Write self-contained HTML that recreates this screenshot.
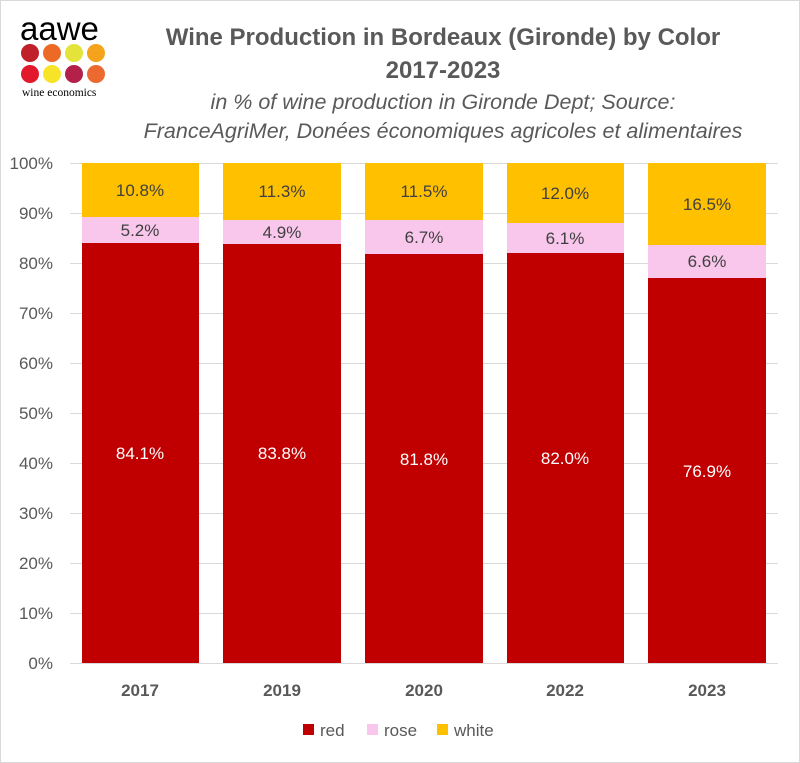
<!DOCTYPE html>
<html><head><meta charset="utf-8"><style>
html,body{margin:0;padding:0;background:#fff}
svg{display:block}
</style></head><body>
<svg width="800" height="763" xmlns="http://www.w3.org/2000/svg" font-family="Liberation Sans, sans-serif">
<rect x="0.5" y="0.5" width="799" height="762" fill="#fff" stroke="#d9d9d9"/>
<!-- logo -->
<text x="20" y="40" font-size="33" fill="#000" font-family="Liberation Sans, sans-serif">aawe</text>
<g>
<circle cx="30" cy="53" r="9" fill="#c0202a"/><circle cx="52" cy="53" r="9" fill="#ec6a25"/><circle cx="74" cy="53" r="9" fill="#e3e33a"/><circle cx="96" cy="53" r="9" fill="#f5a21c"/>
<circle cx="30" cy="74" r="9" fill="#e2192c"/><circle cx="52" cy="74" r="9" fill="#f7e428"/><circle cx="74" cy="74" r="9" fill="#b3204a"/><circle cx="96" cy="74" r="9" fill="#ec6a30"/>
</g>
<text x="22" y="96" font-size="11.5" fill="#000" font-family="Liberation Serif, serif">wine economics</text>
<!-- title -->
<g text-anchor="middle" fill="#595959">
<text x="443" y="45" font-size="24" font-weight="bold">Wine Production in Bordeaux (Gironde) by Color</text>
<text x="443" y="78" font-size="24" font-weight="bold">2017-2023</text>
<text x="443" y="109" font-size="21.5" font-style="italic">in % of wine production in Gironde Dept; Source:</text>
<text x="443" y="138" font-size="21.5" font-style="italic">FranceAgriMer, Donées économiques agricoles et alimentaires</text>
</g>
<!-- grid -->
<g stroke="#d9d9d9" stroke-width="1">
<line x1="70" x2="778" y1="163.5" y2="163.5"/><line x1="70" x2="778" y1="213.5" y2="213.5"/><line x1="70" x2="778" y1="263.5" y2="263.5"/><line x1="70" x2="778" y1="313.5" y2="313.5"/><line x1="70" x2="778" y1="363.5" y2="363.5"/><line x1="70" x2="778" y1="413.5" y2="413.5"/><line x1="70" x2="778" y1="463.5" y2="463.5"/><line x1="70" x2="778" y1="513.5" y2="513.5"/><line x1="70" x2="778" y1="563.5" y2="563.5"/><line x1="70" x2="778" y1="613.5" y2="613.5"/><line x1="70" x2="778" y1="663.5" y2="663.5"/>
</g>
<g font-size="17" fill="#595959" text-anchor="end">
<text x="53" y="169">100%</text><text x="53" y="219">90%</text><text x="53" y="269">80%</text><text x="53" y="319">70%</text><text x="53" y="369">60%</text><text x="53" y="419">50%</text><text x="53" y="469">40%</text><text x="53" y="519">30%</text><text x="53" y="569">20%</text><text x="53" y="619">10%</text><text x="53" y="669">0%</text>
</g>
<g>
<rect x="82" y="163" width="117" height="54" fill="#ffc000"/><rect x="82" y="217" width="117" height="26" fill="#f9c6ec"/><rect x="82" y="243" width="117" height="420" fill="#c00000"/>
<rect x="223" y="163" width="118" height="57" fill="#ffc000"/><rect x="223" y="220" width="118" height="24" fill="#f9c6ec"/><rect x="223" y="244" width="118" height="419" fill="#c00000"/>
<rect x="365" y="163" width="118" height="57" fill="#ffc000"/><rect x="365" y="220" width="118" height="34" fill="#f9c6ec"/><rect x="365" y="254" width="118" height="409" fill="#c00000"/>
<rect x="507" y="163" width="117" height="60" fill="#ffc000"/><rect x="507" y="223" width="117" height="30" fill="#f9c6ec"/><rect x="507" y="253" width="117" height="410" fill="#c00000"/>
<rect x="648" y="163" width="118" height="82" fill="#ffc000"/><rect x="648" y="245" width="118" height="33" fill="#f9c6ec"/><rect x="648" y="278" width="118" height="385" fill="#c00000"/>
</g>
<g font-size="17" text-anchor="middle" fill="#404040">
<text x="140" y="196">10.8%</text><text x="140" y="236">5.2%</text>
<text x="282" y="197">11.3%</text><text x="282" y="238">4.9%</text>
<text x="424" y="197">11.5%</text><text x="424" y="243">6.7%</text>
<text x="565" y="199">12.0%</text><text x="565" y="244">6.1%</text>
<text x="707" y="210">16.5%</text><text x="707" y="267">6.6%</text>
</g>
<g font-size="17" text-anchor="middle" fill="#fff">
<text x="140" y="459">84.1%</text><text x="282" y="459">83.8%</text><text x="424" y="465">81.8%</text><text x="565" y="464">82.0%</text><text x="707" y="477">76.9%</text>
</g>
<g font-size="17" font-weight="bold" text-anchor="middle" fill="#595959">
<text x="140" y="696">2017</text><text x="282" y="696">2019</text><text x="424" y="696">2020</text><text x="565" y="696">2022</text><text x="707" y="696">2023</text>
</g>
<g font-size="17" fill="#595959">
<rect x="303" y="724" width="11" height="11" fill="#c00000"/><text x="320" y="736">red</text>
<rect x="367" y="724" width="11" height="11" fill="#f9c6ec"/><text x="384" y="736">rose</text>
<rect x="437" y="724" width="11" height="11" fill="#ffc000"/><text x="454" y="736">white</text>
</g>
</svg>
</body></html>
